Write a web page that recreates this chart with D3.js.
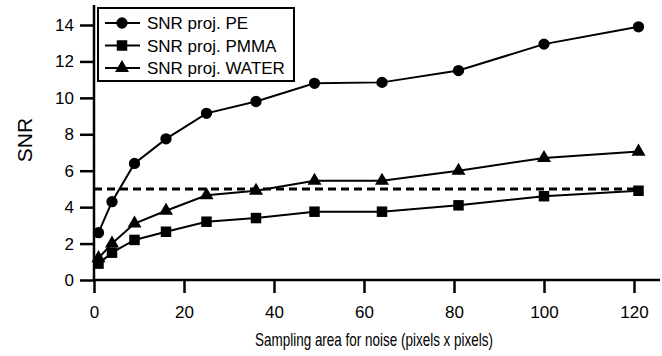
<!DOCTYPE html>
<html><head><meta charset="utf-8">
<script src="https://cdn.jsdelivr.net/npm/d3@7"></script>
<style>body{margin:0;background:#fff}svg{display:block}</style>
</head><body>
<svg id="c" width="662" height="356"></svg>
<script>
const xValues = [1, 4, 9, 16, 25, 36, 49, 64, 81, 100, 121];
const snrPE = [2.6, 4.3, 6.4, 7.75, 9.15, 9.8, 10.8, 10.85, 11.5, 12.95, 13.9];
const snrPMMA = [0.9, 1.5, 2.2, 2.65, 3.2, 3.4, 3.75, 3.75, 4.1, 4.6, 4.9];
const snrWATER = [1.2, 2.0, 3.1, 3.8, 4.65, 4.9, 5.45, 5.45, 6.0, 6.7, 7.05];
const seriesNames = ["SNR proj. PE", "SNR proj. PMMA", "SNR proj. WATER"];
const xTicks = [0, 20, 40, 60, 80, 100, 120];
const yTicks = [0, 2, 4, 6, 8, 10, 12, 14];
const threshold = 5;
const thresholdRange = [0, 121];

const svg = d3.select("#c");
const font = "'Liberation Sans', Arial, Helvetica, sans-serif";
const x = d3.scaleLinear().domain([0, 120]).range([94, 634]);
const y = d3.scaleLinear().domain([0, 14]).range([280, 25]);

// axes
const xAxis = svg.append("g").attr("transform", "translate(0,280)")
  .call(d3.axisBottom(x).tickValues(xTicks).tickSize(13).tickSizeOuter(0).tickPadding(13));
xAxis.select(".domain").attr("d", "M94,0H660");
const yAxis = svg.append("g").attr("transform", "translate(94,0)")
  .call(d3.axisLeft(y).tickValues(yTicks).tickSize(14).tickSizeOuter(0).tickPadding(6));
yAxis.select(".domain").attr("d", "M0,281V5");
svg.selectAll(".domain").attr("stroke", "#000").attr("stroke-width", 2.5);
svg.selectAll(".tick line").attr("stroke", "#000").attr("stroke-width", 2.5);
svg.selectAll(".tick text").attr("font-family", font).attr("font-size", 17).attr("fill", "#000");

// threshold dashed line
svg.append("line")
  .attr("x1", x(thresholdRange[0])).attr("x2", x(thresholdRange[1]))
  .attr("y1", y(threshold)).attr("y2", y(threshold))
  .attr("stroke", "#000").attr("stroke-width", 3).attr("stroke-dasharray", "8,5");

const series = [
  {name: seriesNames[0], vals: snrPE, sym: d3.symbolCircle, size: 100},
  {name: seriesNames[1], vals: snrPMMA, sym: d3.symbolSquare, size: 110},
  {name: seriesNames[2], vals: snrWATER, sym: d3.symbolTriangle, size: 85}
];
const line = d3.line().x(d => x(d[0])).y(d => y(d[1]));
series.forEach(s => {
  const pts = xValues.map((xv, i) => [xv, s.vals[i]]);
  svg.append("path").attr("d", line(pts)).attr("fill", "none")
    .attr("stroke", "#000").attr("stroke-width", 2);
  svg.selectAll(null).data(pts).enter().append("path")
    .attr("d", d3.symbol().type(s.sym).size(s.size))
    .attr("transform", d => `translate(${x(d[0])},${y(d[1])})`)
    .attr("fill", "#000");
});

// legend
const lg = svg.append("g");
lg.append("rect").attr("x", 98).attr("y", 8).attr("width", 196).attr("height", 73)
  .attr("fill", "#fff").attr("stroke", "#000").attr("stroke-width", 2);
series.forEach((s, i) => {
  const cy = 23 + i * 22.5;
  lg.append("line").attr("x1", 105).attr("x2", 140).attr("y1", cy).attr("y2", cy)
    .attr("stroke", "#000").attr("stroke-width", 2);
  lg.append("path").attr("d", d3.symbol().type(s.sym).size(s.size))
    .attr("transform", `translate(122,${cy})`).attr("fill", "#000");
  lg.append("text").attr("x", 147).attr("y", cy + 6).text(s.name)
    .attr("font-family", font).attr("font-size", 17).attr("fill", "#000");
});

// axis titles
svg.append("text").attr("x", 255).attr("y", 346)
  .attr("font-family", font).attr("font-size", 18.5)
  .attr("textLength", 238).attr("lengthAdjust", "spacingAndGlyphs")
  .text("Sampling area for noise (pixels x pixels)");
svg.append("text").attr("transform", "translate(32,140) rotate(-90)")
  .attr("text-anchor", "middle").attr("font-family", font).attr("font-size", 21)
  .text("SNR");
</script>
</body></html>
